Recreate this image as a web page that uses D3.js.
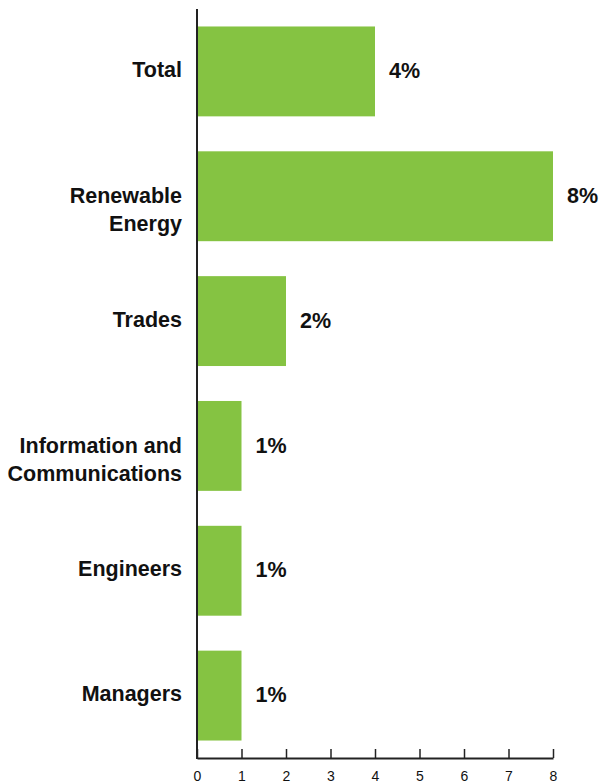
<!DOCTYPE html>
<html>
<head>
<meta charset="utf-8">
<script src="https://cdn.jsdelivr.net/npm/d3@7"></script>
<style>
  html, body { margin: 0; padding: 0; background: #fff; }
  svg { display: block; }
</style>
</head>
<body>
<svg id="chart" width="601" height="784"></svg>
<script>
// Share of roles by sector, percent
const categories = [
  ["Total"],
  ["Renewable", "Energy"],
  ["Trades"],
  ["Information and", "Communications"],
  ["Engineers"],
  ["Managers"]
];
const values = [4, 8, 2, 1, 1, 1];
const valueLabels = ["4%", "8%", "2%", "1%", "1%", "1%"];
const xTicks = [0, 1, 2, 3, 4, 5, 6, 7, 8];

const svg = d3.select("#chart");
const plotLeft = 197, plotRight = 553, plotTop = 9, plotBottom = 758;
const green = "#85c342";
const font = "'Liberation Sans', Arial, sans-serif";

const keys = categories.map(c => c.join(" "));

const x = d3.scaleLinear().domain([0, 8]).range([plotLeft, plotRight]);
const y = d3.scaleBand().domain(keys).range([plotTop, plotBottom])
  .paddingInner(0.28).paddingOuter(0.14);

// bars
svg.append("g").selectAll("rect")
  .data(values)
  .join("rect")
  .attr("x", x(0))
  .attr("y", (d, i) => y(keys[i]))
  .attr("width", d => x(d) - x(0))
  .attr("height", y.bandwidth())
  .attr("fill", green);

// value labels
svg.append("g").selectAll("text")
  .data(values)
  .join("text")
  .attr("x", d => x(d) + 14)
  .attr("y", (d, i) => y(keys[i]) + y.bandwidth() / 2 - 1)
  .attr("dy", "0.36em")
  .attr("font-family", font)
  .attr("font-weight", "bold")
  .attr("font-size", 21.5)
  .attr("fill", "#111")
  .text((d, i) => valueLabels[i]);

// category labels
const catG = svg.append("g");
categories.forEach((lines, i) => {
  const cy = y(keys[i]) + y.bandwidth() / 2 - (lines.length > 1 ? 1 : 2);
  const t = catG.append("text")
    .attr("x", plotLeft - 15)
    .attr("y", cy)
    .attr("text-anchor", "end")
    .attr("font-family", font)
    .attr("font-weight", "bold")
    .attr("font-size", 21.5)
    .attr("fill", "#111");
  lines.forEach((ln, j) => {
    t.append("tspan")
      .attr("x", plotLeft - 15)
      .attr("y", cy + j * 28)
      .attr("dy", "0.36em")
      .text(ln);
  });
});

// bottom axis with inward ticks
const xAxis = d3.axisBottom(x).tickValues(xTicks).tickSize(-9).tickPadding(13).tickSizeOuter(0);
const gx = svg.append("g").attr("transform", `translate(0,${plotBottom})`).call(xAxis);
gx.select(".domain").attr("stroke", "#222").attr("stroke-width", 2);
gx.selectAll(".tick line").attr("stroke", "#222").attr("stroke-width", 1.5);
gx.selectAll(".tick text")
  .attr("font-family", font)
  .attr("font-size", 14)
  .attr("fill", "#111");

// vertical axis line
svg.append("line")
  .attr("x1", plotLeft).attr("x2", plotLeft)
  .attr("y1", plotTop).attr("y2", plotBottom + 1)
  .attr("stroke", "#222")
  .attr("stroke-width", 2);
</script>
</body>
</html>
